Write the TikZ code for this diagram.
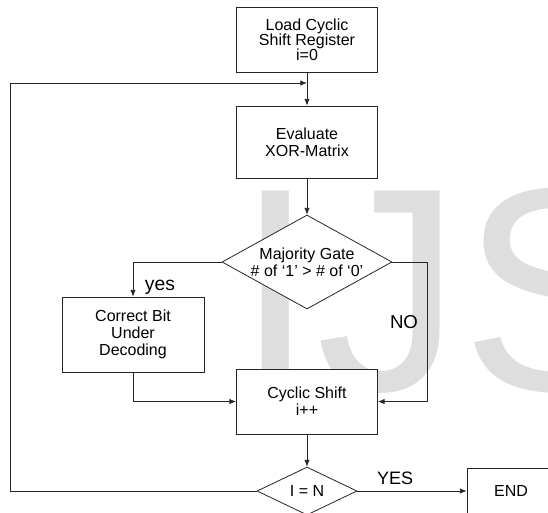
\documentclass[tikz,border=0pt]{standalone}
\usepackage{fontspec}
\setmainfont{Liberation Sans}
\usetikzlibrary{shapes.geometric,arrows.meta}
\begin{document}
\begin{tikzpicture}[x=0.75pt, y=-0.75pt, line width=0.6pt, >={Latex[length=5pt,width=4pt]}]
	\edef\boxwidth{105.75pt}
	\tikzstyle{block}=[draw=black!85,rectangle,fill=white,minimum width=\boxwidth,align=center,inner sep=2pt,font=\fontsize{12}{12.75}\selectfont]
	\tikzstyle{decision}=[draw=black!85,diamond,fill=white,align=center,inner sep=0pt,font=\fontsize{12}{12.75}\selectfont]
	\tikzstyle{lbl}=[inner sep=0pt,anchor=base]
	\tikzstyle{link}=[draw=black!85,->]

	\useasboundingbox (0,0) rectangle (548,512);
	\clip (0,0) rectangle (548,512);

	% watermark
	\node [anchor=base west,inner sep=0pt,text=black!13,font=\fontsize{217.5}{217.5}\selectfont] (mark) at (235.5,390) {IJS};

	\node [block,minimum height=48.75pt,font=\fontsize{12}{11.25}\selectfont] (load) at (307,39.5) {Load Cyclic\\Shift Register\\i=0};
	\node [block,minimum height=54pt] (eval) at (307,142) {Evaluate\\XOR-Matrix};
	\node [decision,shape aspect=1.8,minimum width=127.5pt,minimum height=70.5pt] (maj) at (307,262) {Majority Gate\\\# of ‘1’ > \# of ‘0’};
	\node [block,minimum width=106.5pt,minimum height=56.25pt] (corr) at (133,334.5) {Correct Bit\\Under\\Decoding};
	\node [block,minimum height=48.75pt] (shift) at (307,401.5) {Cyclic Shift\\i++};
	\node [decision,shape aspect=2.1,minimum width=75pt,minimum height=36pt] (test) at (307,491) {I = N};
	\node [block,minimum width=66pt,minimum height=34.5pt] (fin) at (511,491) {END};

	\coordinate (fb) at (307,83);
	\coordinate (lc) at (10,83);
	\coordinate (rc) at (427,330);

	\draw [link] (load.south) -- (eval.north);
	\draw [link] (test.west) -| (lc) -- (fb); % back to start
	\draw [link] (eval.south) -- (maj.north);
	\draw [link] (maj.west) -| (corr.north); % yes
	\draw [link] (maj.east) -| (rc) |- (shift.east); % no
	\draw [link] (corr.south) |- (shift.west);
	\draw [link] (shift.south) -- (test.north);
	\draw [link] (test.east) -- (fin.west); % done

	\node [lbl,font=\fontsize{14.5}{14.5}\selectfont] (yes) at (160,290) {yes};
	\node [lbl,font=\fontsize{14}{14}\selectfont] (no) at (404,328) {NO};
	\node [lbl,font=\fontsize{13.5}{13.5}\selectfont] (yesb) at (395,484) {YES};

\end{tikzpicture}
\end{document}
